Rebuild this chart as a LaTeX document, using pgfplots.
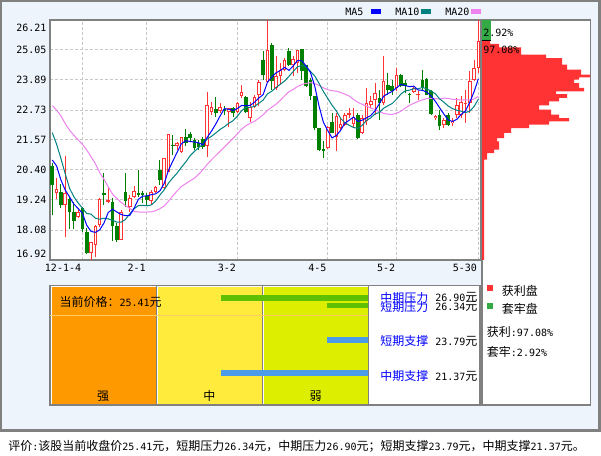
\documentclass[border=0pt]{standalone}
\usepackage{pgfplots}
\usepackage{pgfplotstable}
\pgfplotsset{compat=1.18}
\usepackage{fontspec}
\setmainfont{Noto Sans CJK SC}
\newfontfamily\monofnt{DejaVu Sans Mono}
\newcommand\mn[1]{{\monofnt\fontsize{7.5}{9}\selectfont #1}}
\definecolor{cRed}{RGB}{255,51,51}
\definecolor{cGreen}{RGB}{0,128,0}
\definecolor{cBlue}{RGB}{0,0,255}
\definecolor{cTeal}{RGB}{0,128,128}
\definecolor{cPink}{RGB}{238,130,238}
\definecolor{hGreen}{RGB}{51,170,68}
\definecolor{bgBlue}{RGB}{238,244,252}
\definecolor{frameGray}{RGB}{128,128,128}
\definecolor{gridGray}{RGB}{200,200,200}
\definecolor{pOrange}{RGB}{255,153,0}
\definecolor{pYellow}{RGB}{255,235,59}
\definecolor{pLime}{RGB}{221,238,0}
\definecolor{barGreen}{RGB}{94,192,0}
\definecolor{barBlue}{RGB}{76,155,232}
\definecolor{priceLine}{RGB}{255,204,102}

% red (rising) candles: index open high low close
\pgfplotstableread{
i o h l c
2 19.501 20.082 19.281 19.656
4 19.049 20.957 17.798 19.501
7 18.572 18.894 18.534 18.789
10 17.202 17.628 16.920 17.605
11 17.500 18.274 17.047 18.236
12 18.274 19.308 18.209 19.269
14 19.176 19.734 19.114 19.242
17 17.694 18.855 17.694 18.789
19 18.983 19.435 18.789 19.308
20 19.370 19.784 19.308 19.590
24 19.203 19.629 19.049 19.563
25 19.563 19.784 19.501 19.734
27 19.695 20.856 19.629 20.856
28 20.326 21.797 20.326 21.797
30 21.332 21.499 21.178 21.437
31 21.112 21.693 21.073 21.669
37 21.332 23.434 20.918 22.919
38 22.660 23.047 22.532 22.830
40 22.699 23.008 22.598 22.830
42 22.660 22.792 22.079 22.792
44 22.660 23.047 22.598 23.008
45 23.268 23.694 23.179 23.411
47 22.405 23.036 22.262 22.842
48 22.842 23.307 22.792 23.229
49 23.295 23.899 22.869 23.810
51 23.810 26.210 23.771 25.060
53 23.578 24.805 23.512 24.030
54 24.030 24.545 23.705 24.286
55 24.286 24.739 24.224 24.673
57 24.479 24.805 24.030 24.712
58 24.545 25.060 24.158 25.060
65 21.255 22.095 21.228 22.056
67 21.669 22.610 21.127 22.482
68 22.029 22.416 21.901 22.184
69 22.134 22.610 22.095 22.544
70 22.544 22.803 22.416 22.610
71 22.184 22.803 22.029 22.443
73 21.836 22.544 21.800 22.416
74 22.300 23.578 22.157 22.997
75 22.908 23.256 22.803 23.063
76 23.125 23.771 22.544 23.384
78 22.997 24.805 22.931 23.860
81 23.578 24.352 23.450 24.092
85 23.423 23.643 23.384 23.578
86 23.295 23.450 23.125 23.345
90 22.416 22.544 22.350 22.505
92 22.134 22.416 22.029 22.350
94 22.223 22.416 22.095 22.312
95 22.521 23.191 22.416 22.908
96 22.544 23.256 22.416 23.036
97 22.958 23.500 22.223 23.016
98 22.997 24.224 22.610 23.837
99 23.899 24.673 23.837 24.352
100 24.352 26.210 24.158 25.410
}\upc

% green (falling) candles
\pgfplotstableread{
i o h l c
1 20.558 20.674 18.661 19.823
3 19.563 19.861 18.932 19.049
5 19.269 19.370 18.108 18.789
6 18.789 19.176 18.108 18.441
8 18.921 18.983 18.015 18.131
9 18.015 18.158 17.152 17.179
13 19.524 20.276 19.049 19.447
15 19.176 19.308 17.667 18.236
16 18.236 18.352 17.628 17.694
18 19.563 20.276 18.983 19.215
21 19.501 20.403 19.370 19.435
22 19.524 19.602 19.114 19.424
23 19.408 19.501 19.049 19.242
26 20.403 20.790 19.823 20.016
29 21.371 21.758 20.984 21.332
32 21.669 21.979 21.332 21.460
33 21.797 21.886 21.499 21.630
34 21.565 21.630 21.178 21.243
35 21.437 21.565 21.178 21.282
36 21.603 21.669 21.205 21.282
39 22.753 23.218 22.466 22.621
41 22.753 22.881 22.532 22.699
43 22.792 22.854 22.466 22.598
46 23.218 23.250 22.620 22.660
50 24.661 24.998 23.899 24.081
52 25.230 25.319 23.512 23.837
56 25.021 25.126 24.418 24.479
59 25.087 25.087 23.899 24.224
60 24.479 24.479 23.600 23.643
61 23.899 23.965 23.125 23.256
62 23.256 23.256 21.963 22.029
63 22.029 22.029 21.127 21.189
64 21.216 21.537 20.868 21.127
66 22.261 22.610 21.836 21.836
72 22.544 22.600 21.600 21.642
77 23.191 23.512 22.350 22.997
79 23.705 24.158 23.318 23.512
80 23.643 23.899 23.318 23.473
82 24.092 24.120 23.600 23.643
83 23.771 23.899 23.384 23.643
84 23.345 23.384 22.997 23.295
87 23.899 24.286 23.512 23.578
88 23.926 23.950 23.290 23.318
89 23.473 23.490 22.550 22.571
91 22.544 22.738 21.963 22.095
93 22.544 22.610 22.095 22.157
}\downc

% moving averages
\pgfplotstableread{
i ma5 ma10 ma20
1 20.79 21.85 22.90
2 20.56 21.40 22.72
3 20.02 20.85 22.50
4 19.63 20.26 22.20
5 19.364 19.70 21.95
6 19.087 19.37 21.75
7 18.914 19.13 21.57
8 18.730 18.93 21.40
9 18.266 18.72 21.18
10 18.029 18.696 20.92
11 17.988 18.538 20.65
12 18.084 18.499 20.30
13 18.347 18.539 20.05
14 18.760 18.513 19.75
15 18.886 18.458 19.47
16 18.778 18.383 19.30
17 18.682 18.383 19.15
18 18.635 18.491 19.02
19 18.648 18.704 18.92
20 18.919 18.903 18.799
21 19.267 19.023 18.780
22 19.394 19.038 18.768
23 19.400 19.018 18.778
24 19.451 19.050 18.781
25 19.480 19.199 18.828
26 19.596 19.432 18.907
27 19.882 19.638 19.011
28 20.393 19.897 19.194
29 20.747 20.099 19.402
30 21.088 20.284 19.593
31 21.418 20.507 19.765
32 21.539 20.711 19.874
33 21.506 20.949 19.983
34 21.488 21.117 20.084
35 21.457 21.272 20.236
36 21.379 21.399 20.415
37 21.671 21.605 20.622
38 21.911 21.708 20.802
39 22.187 21.837 20.968
40 22.496 21.977 21.130
41 22.780 22.080 21.293
42 22.754 22.213 21.462
43 22.708 22.310 21.630
44 22.785 22.486 21.802
45 22.902 22.699 21.986
46 22.894 22.837 22.118
47 22.904 22.829 22.217
48 23.030 22.869 22.289
49 23.190 22.988 22.413
50 23.324 23.113 22.545
51 23.804 23.349 22.714
52 24.003 23.454 22.833
53 24.164 23.597 22.953
54 24.259 23.725 23.105
55 24.377 23.851 23.275
56 24.261 24.033 23.435
57 24.436 24.220 23.524
58 24.642 24.403 23.636
59 24.630 24.444 23.716
60 24.424 24.400 23.757
61 24.179 24.220 23.785
62 23.642 24.039 23.746
63 22.868 23.755 23.676
64 22.249 23.439 23.582
65 21.931 23.178 23.514
66 21.647 22.913 23.473
67 21.738 22.690 23.455
68 21.937 22.403 23.403
69 22.220 22.235 23.339
70 22.331 22.131 23.266
71 22.453 22.050 23.135
72 22.285 22.011 23.025
73 22.331 22.134 22.945
74 22.422 22.321 22.880
75 22.512 22.422 22.800
76 22.700 22.577 22.745
77 22.971 22.628 22.659
78 23.260 22.796 22.599
79 23.363 22.892 22.564
80 23.445 22.979 22.555
81 23.587 23.144 22.597
82 23.716 23.344 22.678
83 23.673 23.466 22.800
84 23.629 23.496 22.909
85 23.650 23.548 22.985
86 23.501 23.544 23.060
87 23.488 23.602 23.115
88 23.423 23.548 23.172
89 23.278 23.454 23.173
90 23.063 23.357 23.168
91 22.813 23.157 23.150
92 22.568 23.028 23.186
93 22.336 22.879 23.173
94 22.284 22.781 23.139
95 22.364 22.714 23.131
96 22.553 22.683 23.113
97 22.686 22.627 23.114
98 23.022 22.679 23.113
99 23.430 22.857 23.155
100 23.930 23.147 23.252
}\ma

\begin{document}
\begin{tikzpicture}[x=0.75pt,y=0.75pt,
  lbl/.style={inner sep=0pt, font=\fontsize{9}{11}\selectfont}]
\useasboundingbox (0,0) rectangle (601,-456);
\fill[white] (0,0) rectangle (601,-456);
\filldraw[fill=bgBlue, draw=frameGray, line width=1.9pt] (1.2,-1.2) rectangle (599.6,-430.5);

% right panel box
\filldraw[fill=white, draw=frameGray, line width=0.9pt] (482,-20) rectangle (590.6,-405);

% bottom panel
\filldraw[fill=white, draw=frameGray, line width=0.9pt] (50,-285.3) rectangle (480,-405);
\fill[pOrange] (51.6,-286.8) rectangle (155.6,-403.8);
\fill[pYellow] (157.6,-286.8) rectangle (261.6,-403.8);
\fill[pLime] (263.6,-286.8) rectangle (367.6,-403.8);
\draw[frameGray, line width=0.75pt] (156.6,-285.3) -- (156.6,-405);
\draw[frameGray, line width=0.75pt] (262.6,-285.3) -- (262.6,-405);
\draw[frameGray, line width=0.75pt] (368.6,-285.3) -- (368.6,-405);

% main candlestick chart
\begin{axis}[
  at={(37.5pt,-195pt)}, anchor=south west, scale only axis,
  width=322.9pt, height=180pt,
  xmin=0.4655, xmax=100.51, ymin=16.92, ymax=26.21,
  axis background/.style={fill=white},
  axis line style={draw=frameGray, line width=1.1pt},
  xtick={8,23,44,65,81,100},
  xticklabels={12-1-4,2-1,3-2,4-5,5-2,5-30},
  ytick={18.081,19.243,20.404,21.565,22.726,23.888,25.049},
  yticklabels={18.08,19.24,20.40,21.57,22.73,23.89,25.05},
  grid=major,
  major grid style={draw=gridGray, line width=0.75pt, dash pattern=on 2.25pt off 1.5pt},
  major tick length=0pt,
  tick label style={font=\monofnt\fontsize{7.5}{9}\selectfont, inner sep=0pt},
  xticklabel style={anchor=east, yshift=-5.8pt, xshift=-0.8pt},
  yticklabel style={anchor=east, xshift=-2.5pt},
  clip=true,
]
% wicks
\addplot[cRed, line width=0.75pt, quiver={u=0, v=\thisrow{h}-\thisrow{l}}] table[x=i, y=l] {\upc};
\addplot[cGreen, line width=0.75pt, quiver={u=0, v=\thisrow{h}-\thisrow{l}}] table[x=i, y=l] {\downc};
% bodies
\addplot[cGreen, line width=2.7pt, quiver={u=0, v=\thisrow{c}-\thisrow{o}}] table[x=i, y=o] {\downc};
\addplot[cRed, line width=2.7pt, quiver={u=0, v={max(\thisrow{c}-\thisrow{o},0.04)}}] table[x=i, y=o] {\upc};
\addplot[white, line width=1.2pt, quiver={u=0, v={max(\thisrow{c}-\thisrow{o}-0.08,0)}}] table[x=i, y expr=\thisrow{o}+0.04] {\upc};
% moving averages
\addplot[cPink, line width=0.75pt] table[x=i, y=ma20] {\ma};
\addplot[cTeal, line width=0.75pt] table[x=i, y=ma10] {\ma};
\addplot[cBlue, line width=0.75pt] table[x=i, y=ma5] {\ma};
\end{axis}

% chip distribution
\begin{axis}[
  at={(361.5pt,-195pt)}, anchor=south west, scale only axis,
  width=81pt, height=180pt,
  xmin=0, xmax=108, ymin=16.92, ymax=26.21,
  hide axis, clip=true,
]
\addplot[xbar interval, fill=cRed, draw=none] coordinates {
(2,16.92) (5,20.802) (12,21.061) (17,21.189) (15,21.514) (22,21.642) (29,21.836)
(47,22.029) (67,22.157) (87,22.288) (77,22.416) (69,22.544) (57,22.738) (67,22.908)
(77,23.063) (85,23.191) (74,23.345) (102,23.450) (97,23.578) (92,23.771) (97,23.899)
(109,23.992) (99,24.092) (85,24.286) (80,24.479) (64,24.739) (39,24.867) (17,25.153)
(8,25.281) (0,25.41)};
\addplot[xbar interval, fill=hGreen, draw=none] coordinates {(9,25.41) (0,26.21)};
\addplot[black, line width=0.75pt] coordinates {(0,25.41) (9,25.41)};
\end{axis}

% support / pressure panel
\begin{axis}[
  at={(37.5pt,-303.75pt)}, anchor=south west, scale only axis,
  width=322.5pt, height=90pt,
  xmin=50, xmax=480, ymin=18.788, ymax=27.637,
  hide axis, clip=false,
]
\addplot[priceLine, line width=0.75pt] coordinates {(50,25.41) (368,25.41)};
\addplot[barGreen, line width=4.3pt, yshift=-2.14pt] coordinates {(221,26.90) (368,26.90)};
\addplot[barGreen, line width=4.3pt, yshift=-2.14pt] coordinates {(327,26.34) (368,26.34)};
\addplot[barBlue, line width=4.3pt, yshift=-2.14pt] coordinates {(327,23.79) (368,23.79)};
\addplot[barBlue, line width=4.3pt, yshift=-2.14pt] coordinates {(221,21.37) (368,21.37)};
\end{axis}

% y labels at the ends
\node[anchor=east, inner sep=0pt] at (46.7,-28) {\mn{26.21}};
\node[anchor=east, inner sep=0pt] at (46.7,-253.7) {\mn{16.92}};

% MA legend
\node[anchor=west, inner sep=0pt] at (345,-12) {\mn{MA5}};
\fill[cBlue] (371,-9.3) rectangle (381,-14);
\node[anchor=west, inner sep=0pt] at (395,-12) {\mn{MA10}};
\fill[cTeal] (421,-9.3) rectangle (431,-14);
\node[anchor=west, inner sep=0pt] at (445,-12) {\mn{MA20}};
\fill[cPink] (471,-9.3) rectangle (481,-14);

% histogram texts
\node[anchor=west, inner sep=0pt] at (483,-33) {\mn{2.92\%}};
\node[anchor=west, inner sep=0pt] at (483,-49.7) {\mn{97.08\%}};

% bottom panel texts
\node[lbl, anchor=west] at (59.3,-301.7) {当前价格：\mn{25.41}元};
\node[lbl] at (103,-396) {强};
\node[lbl] at (209.3,-396) {中};
\node[lbl] at (315.7,-396) {弱};
\node[lbl, anchor=west, text=cBlue] at (380,-297.5) {中期压力};
\node[lbl, anchor=west, text=cBlue] at (380,-306.5) {短期压力};
\node[lbl, anchor=west] at (435,-297.5) {\mn{26.90}元};
\node[lbl, anchor=west] at (435,-306.5) {\mn{26.34}元};
\node[lbl, anchor=west, text=cBlue] at (380,-341) {短期支撑};
\node[lbl, anchor=west] at (435,-341) {\mn{23.79}元};
\node[lbl, anchor=west, text=cBlue] at (380,-376) {中期支撑};
\node[lbl, anchor=west] at (435,-376) {\mn{21.37}元};

% right legend
\fill[cRed] (487.3,-285.5) rectangle (493.3,-291.5);
\node[lbl, anchor=west] at (501.7,-291) {获利盘};
\fill[hGreen] (487.3,-302.7) rectangle (493.3,-308.7);
\node[lbl, anchor=west] at (501.7,-308.5) {套牢盘};
\node[lbl, anchor=west] at (486.7,-331.7) {获利\mn{:97.08\%}};
\node[lbl, anchor=west] at (486.7,-351.7) {套牢\mn{:2.92\%}};

% evaluation line
\node[lbl, anchor=west] at (8,-446) {评价\mn{:}该股当前收盘价\mn{25.41}元，短期压力\mn{26.34}元，中期压力\mn{26.90}元；短期支撑\mn{23.79}元，中期支撑\mn{21.37}元。};
\end{tikzpicture}
\end{document}
